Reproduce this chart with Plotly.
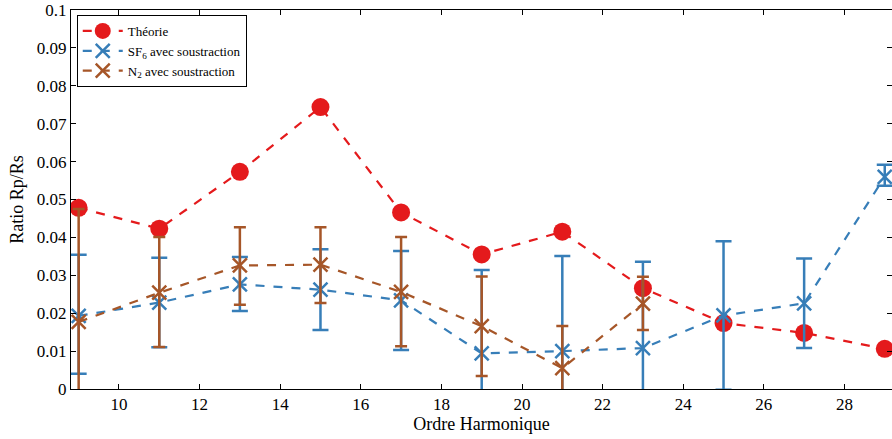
import plotly.graph_objects as go

harmonics = [9, 11, 13, 15, 17, 19, 21, 23, 25, 27, 29]
theorie = [0.0478, 0.0423, 0.0573, 0.0744, 0.0466, 0.0355, 0.0415, 0.0266, 0.0174, 0.0148, 0.0106]

sf6_x = [9, 11, 13, 15, 17, 19, 21, 23, 25, 27, 29]
sf6 = [0.0193, 0.0228, 0.0276, 0.0262, 0.0234, 0.0094, 0.0100, 0.0108, 0.0194, 0.0226, 0.0560]
sf6_err_plus = [0.0161, 0.0118, 0.0072, 0.0107, 0.0130, 0.0220, 0.0251, 0.0228, 0.0196, 0.0118, 0.0032]
sf6_err_minus = [0.0153, 0.0118, 0.0070, 0.0106, 0.0131, 0.0220, 0.0251, 0.0228, 0.0196, 0.0118, 0.0024]

n2_x = [9, 11, 13, 15, 17, 19, 21, 23]
n2 = [0.0177, 0.0254, 0.0326, 0.0328, 0.0256, 0.0166, 0.0055, 0.0225]
n2_err_plus = [0.0298, 0.0147, 0.0101, 0.0099, 0.0145, 0.0131, 0.0111, 0.0071]
n2_err_minus = [0.0298, 0.0143, 0.0104, 0.0101, 0.0143, 0.0132, 0.0111, 0.0069]

xticks = [10, 12, 14, 16, 18, 20, 22, 24, 26, 28]
yticks = [0, 0.01, 0.02, 0.03, 0.04, 0.05, 0.06, 0.07, 0.08, 0.09, 0.1]
yticklabels = ["0", "0.01", "0.02", "0.03", "0.04", "0.05", "0.06", "0.07", "0.08", "0.09", "0.1"]

RED = "#E41A1C"
BLUE = "#377EB8"
BROWN = "#A65628"
FONT = "Liberation Serif"

fig = go.Figure()
fig.add_trace(go.Scatter(
    x=harmonics, y=theorie, name="Théorie", mode="lines+markers",
    line=dict(color=RED, width=2.2, dash="dash"),
    marker=dict(color=RED, size=18, symbol="circle"),
))
fig.add_trace(go.Scatter(
    x=sf6_x, y=sf6, name="SF<sub>6</sub> avec soustraction", mode="lines+markers",
    line=dict(color=BLUE, width=2.2, dash="dash"),
    marker=dict(color=BLUE, size=14, symbol="x-thin", line=dict(color=BLUE, width=2.5)),
    error_y=dict(type="data", symmetric=False, array=sf6_err_plus, arrayminus=sf6_err_minus,
                 color=BLUE, thickness=2.5, width=8),
))
fig.add_trace(go.Scatter(
    x=n2_x, y=n2, name="N<sub>2</sub> avec soustraction", mode="lines+markers",
    line=dict(color=BROWN, width=2.2, dash="dash"),
    marker=dict(color=BROWN, size=14, symbol="x-thin", line=dict(color=BROWN, width=2.5)),
    error_y=dict(type="data", symmetric=False, array=n2_err_plus, arrayminus=n2_err_minus,
                 color=BROWN, thickness=2.5, width=6),
))

fig.update_layout(
    width=892, height=439,
    margin=dict(l=71, r=0, t=10, b=50),
    plot_bgcolor="white", paper_bgcolor="white",
    font=dict(family=FONT, size=17, color="black"),
    legend=dict(x=0.007, y=0.987, xanchor="left", yanchor="top",
                bordercolor="black", borderwidth=1, bgcolor="white",
                font=dict(family=FONT, size=13), tracegroupgap=0,
                itemwidth=40),
    showlegend=True,
)
fig.update_xaxes(
    range=[8.81, 29.18], tickvals=xticks, ticktext=[str(v) for v in xticks],
    ticks="inside", ticklen=5, tickcolor="black", showline=True, linecolor="black",
    linewidth=1, mirror="allticks", showgrid=False, zeroline=False,
    tickfont=dict(size=17),
    title=dict(text="Ordre Harmonique", standoff=2, font=dict(size=18)),
)
fig.update_yaxes(
    range=[0, 0.1], tickvals=yticks, ticktext=yticklabels,
    ticks="inside", ticklen=5, tickcolor="black", showline=True, linecolor="black",
    linewidth=1, mirror="allticks", showgrid=False, zeroline=False,
    tickfont=dict(size=17),
    title=dict(text="Ratio Rp/Rs", standoff=8, font=dict(size=18)),
)

fig.write_html("out.html", config={"displayModeBar": False},
               post_script="document.body.style.margin='0';document.body.style.overflow='hidden';")
